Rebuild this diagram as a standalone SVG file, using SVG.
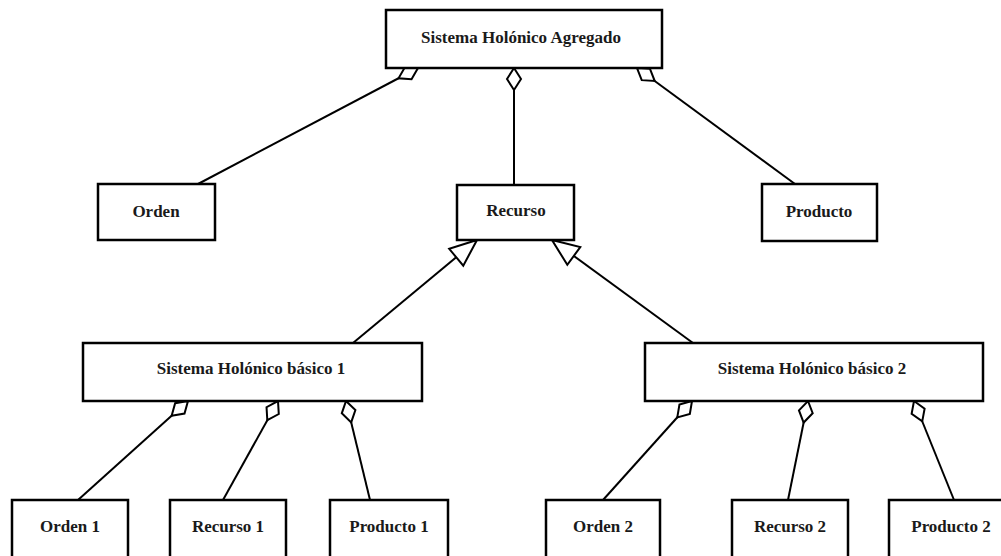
<svg xmlns="http://www.w3.org/2000/svg" width="1001" height="556" viewBox="0 0 1001 556">
  <style>
    .box { fill: #ffffff; stroke: #000000; stroke-width: 2.5; }
    .lbl { font-family: "Liberation Serif", "Times New Roman", serif; font-weight: bold; font-size: 17px; fill: #1a1a1a; text-anchor: middle; }
    .link { fill: none; stroke: #000000; stroke-width: 2; }
    .agg { marker-start: url(#diamond); }
    .gen { marker-start: url(#triangle); }
  </style>
  <defs>
    <!-- hollow diamond: aggregation end, tip at the path start -->
    <marker id="diamond" markerUnits="userSpaceOnUse" orient="auto" viewBox="-2 -9 26 18" markerWidth="26" markerHeight="18" refX="0" refY="0">
      <path d="M0,0 L11,-7 L22,0 L11,7 Z" fill="#ffffff" stroke="#000000" stroke-width="2" stroke-linejoin="miter"/>
    </marker>
    <!-- hollow triangle: generalisation end, apex at the path start -->
    <marker id="triangle" markerUnits="userSpaceOnUse" orient="auto" viewBox="-2 -13 31 26" markerWidth="31" markerHeight="26" refX="0" refY="0">
      <path d="M0,0 L27,-11 L27,11 Z" fill="#ffffff" stroke="#000000" stroke-width="2" stroke-linejoin="miter"/>
    </marker>
  </defs>

  <g id="connectors">
    <!-- aggregate system parts -->
    <path class="link agg" d="M418,68 L198,184"/>
    <path class="link agg" d="M514,68 L514,185"/>
    <path class="link agg" d="M637,68 L795,184"/>
    <!-- basic systems specialise Recurso -->
    <path class="link gen" d="M477,240 L353,343"/>
    <path class="link gen" d="M552,240 L693,343"/>
    <!-- basic system 1 parts -->
    <path class="link agg" d="M188,401 L78,500"/>
    <path class="link agg" d="M278,401 L223,500"/>
    <path class="link agg" d="M346,401 L370,500"/>
    <!-- basic system 2 parts -->
    <path class="link agg" d="M692,401 L603,500"/>
    <path class="link agg" d="M808,401 L788,500"/>
    <path class="link agg" d="M914,401 L954,500"/>
  </g>

  <g id="sistema-agregado">
    <rect class="box" x="386" y="10" width="276" height="58"/>
    <text class="lbl" x="521" y="43">Sistema Holónico Agregado</text>
  </g>
  <g id="orden">
    <rect class="box" x="98" y="184" width="117" height="56"/>
    <text class="lbl" x="156" y="217">Orden</text>
  </g>
  <g id="recurso">
    <rect class="box" x="457" y="185" width="117" height="55"/>
    <text class="lbl" x="516" y="216">Recurso</text>
  </g>
  <g id="producto">
    <rect class="box" x="762" y="184" width="115" height="57"/>
    <text class="lbl" x="819" y="217">Producto</text>
  </g>
  <g id="sistema-basico-1">
    <rect class="box" x="83" y="343" width="339" height="58"/>
    <text class="lbl" x="251" y="374">Sistema Holónico básico 1</text>
  </g>
  <g id="sistema-basico-2">
    <rect class="box" x="645" y="343" width="338" height="58"/>
    <text class="lbl" x="812" y="374">Sistema Holónico básico 2</text>
  </g>
  <g id="orden-1">
    <rect class="box" x="12" y="500" width="116" height="70"/>
    <text class="lbl" x="70" y="532">Orden 1</text>
  </g>
  <g id="recurso-1">
    <rect class="box" x="170" y="500" width="116" height="70"/>
    <text class="lbl" x="228" y="532">Recurso 1</text>
  </g>
  <g id="producto-1">
    <rect class="box" x="330" y="500" width="118" height="70"/>
    <text class="lbl" x="389" y="532">Producto 1</text>
  </g>
  <g id="orden-2">
    <rect class="box" x="546" y="500" width="114" height="70"/>
    <text class="lbl" x="603" y="532">Orden 2</text>
  </g>
  <g id="recurso-2">
    <rect class="box" x="732" y="500" width="116" height="70"/>
    <text class="lbl" x="790" y="532">Recurso 2</text>
  </g>
  <g id="producto-2">
    <rect class="box" x="889" y="500" width="124" height="70"/>
    <text class="lbl" x="951" y="532">Producto 2</text>
  </g>
</svg>
